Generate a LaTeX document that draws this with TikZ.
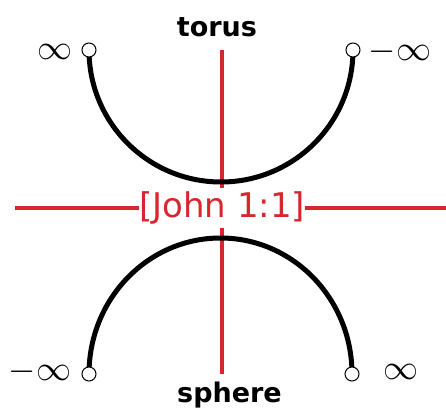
\documentclass[tikz,border=0pt]{standalone}
\usepackage{fix-cm}
\usepackage{fontspec}
\newfontfamily\labelfont{DejaVu Sans}
\definecolor{VerseRed}{RGB}{214,38,46}
\usetikzlibrary{backgrounds}
\tikzset{>=latex}

\begin{document}
\begin{tikzpicture}[x=1pt, y=1pt,
    endpt/.style={circle, draw, line width=1pt, fill=white, inner sep=0pt, minimum size=14pt},
    inf/.style={font=\fontsize{35}{40}\selectfont, inner sep=0pt},
    word/.style={font=\labelfont\bfseries\fontsize{27}{30}\selectfont, anchor=base, inner sep=0pt},
    axis/.style={VerseRed, line width=3.5pt},
    lobe/.style={line width=5pt}]
  \useasboundingbox (0,0) rectangle (446,417);
  % ends of the two half circles
  \node[endpt] (tl) at (89,367) {};
  \node[endpt] (tr) at (353,367) {};
  \node[endpt] (bl) at (89,43) {};
  \node[endpt] (br) at (352,43) {};
  \node[inf] (infTL) at (55,365) {$\infty$};
  \node[inf] (infTR) at (400,365) {$-\infty$};
  \node[inf] (infBL) at (40,45) {$-\infty$};
  \node[inf] (infBR) at (401,45) {$\infty$};
  \node[word] (torus) at (217,380) {torus};
  \node[word] (sphere) at (229.5,15) {sphere};
  \coordinate (top) at (222,367);
  \coordinate (bottom) at (222,43);
  \coordinate (left) at (15,209);
  \coordinate (right) at (446,209);
  \node[fill=white, text=VerseRed, inner xsep=0pt, inner ysep=4pt, font=\labelfont\fontsize{34}{38}\selectfont] (verse) at (222,209) {[John 1:1]};
  \begin{scope}[on background layer]
    \draw[axis] (top) -- (bottom);
    \draw[axis] (left) -- (right);
    \draw[lobe] (tl.center) arc[start angle=180, end angle=360, x radius=132, y radius=132];
    \draw[lobe] (bl.center) arc[start angle=180, end angle=0, x radius=131.5, y radius=136];
  \end{scope}
\end{tikzpicture}
\end{document}
